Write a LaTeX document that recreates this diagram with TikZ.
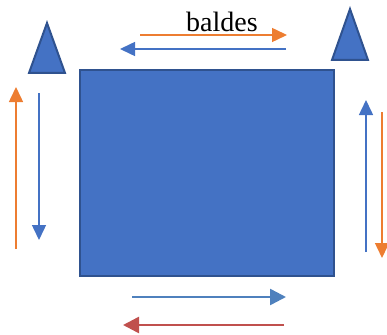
\documentclass[tikz,border=0pt]{standalone}
\usepackage{fontspec}
\setmainfont{Liberation Serif}
\usetikzlibrary{arrows.meta}
\definecolor{fillblue}{HTML}{4472C4}
\definecolor{edgeblue}{HTML}{2F528F}
\definecolor{arrblue}{HTML}{4472C4}
\definecolor{arrblue2}{HTML}{4F81BD}
\definecolor{arrorange}{HTML}{ED7D31}
\definecolor{arrred}{HTML}{C0504D}
\tikzset{
  shapeblue/.style={fill=fillblue,draw=edgeblue,line width=2pt,line join=miter},
  thinarrow/.style={line width=1.5pt,-{Triangle[length=15pt,width=14pt]}},
  thickarrow/.style={line width=2.5pt,-{Triangle[length=16pt,width=16pt]}}
}
\begin{document}
\begin{tikzpicture}[x=1pt,y=-1pt]
\useasboundingbox (0,0) rectangle (387,334);
% main block
\draw[shapeblue] (80,70) rectangle (334,276);
% triangles
\draw[shapeblue] (47,23) -- (65,73) -- (29,73) -- cycle;
\draw[shapeblue] (350,9) -- (368,60) -- (332,60) -- cycle;
% label
\node[anchor=base,font=\fontsize{28}{30}\selectfont,inner sep=0pt] (lbl) at (222,32) {baldes};
% coordinates
\coordinate (t1a) at (140,35); \coordinate (t1b) at (287,35);
\coordinate (t2a) at (286,49); \coordinate (t2b) at (120,49);
\coordinate (b1a) at (132,297); \coordinate (b1b) at (286,297);
\coordinate (b2a) at (284,325); \coordinate (b2b) at (123,325);
\coordinate (l1a) at (16,249); \coordinate (l1b) at (16,87);
\coordinate (l2a) at (39,93); \coordinate (l2b) at (39,240);
\coordinate (r1a) at (366,252); \coordinate (r1b) at (366,100);
\coordinate (r2a) at (382,112); \coordinate (r2b) at (382,258);
% arrows
\draw[thinarrow,arrorange] (t1a) -- (t1b);
\draw[thinarrow,arrblue] (t2a) -- (t2b);
\draw[thickarrow,arrblue2] (b1a) -- (b1b);
\draw[thickarrow,arrred] (b2a) -- (b2b);
\draw[thinarrow,arrorange] (l1a) -- (l1b);
\draw[thinarrow,arrblue] (l2a) -- (l2b);
\draw[thinarrow,arrblue] (r1a) -- (r1b);
\draw[thinarrow,arrorange] (r2a) -- (r2b);
\end{tikzpicture}
\end{document}
